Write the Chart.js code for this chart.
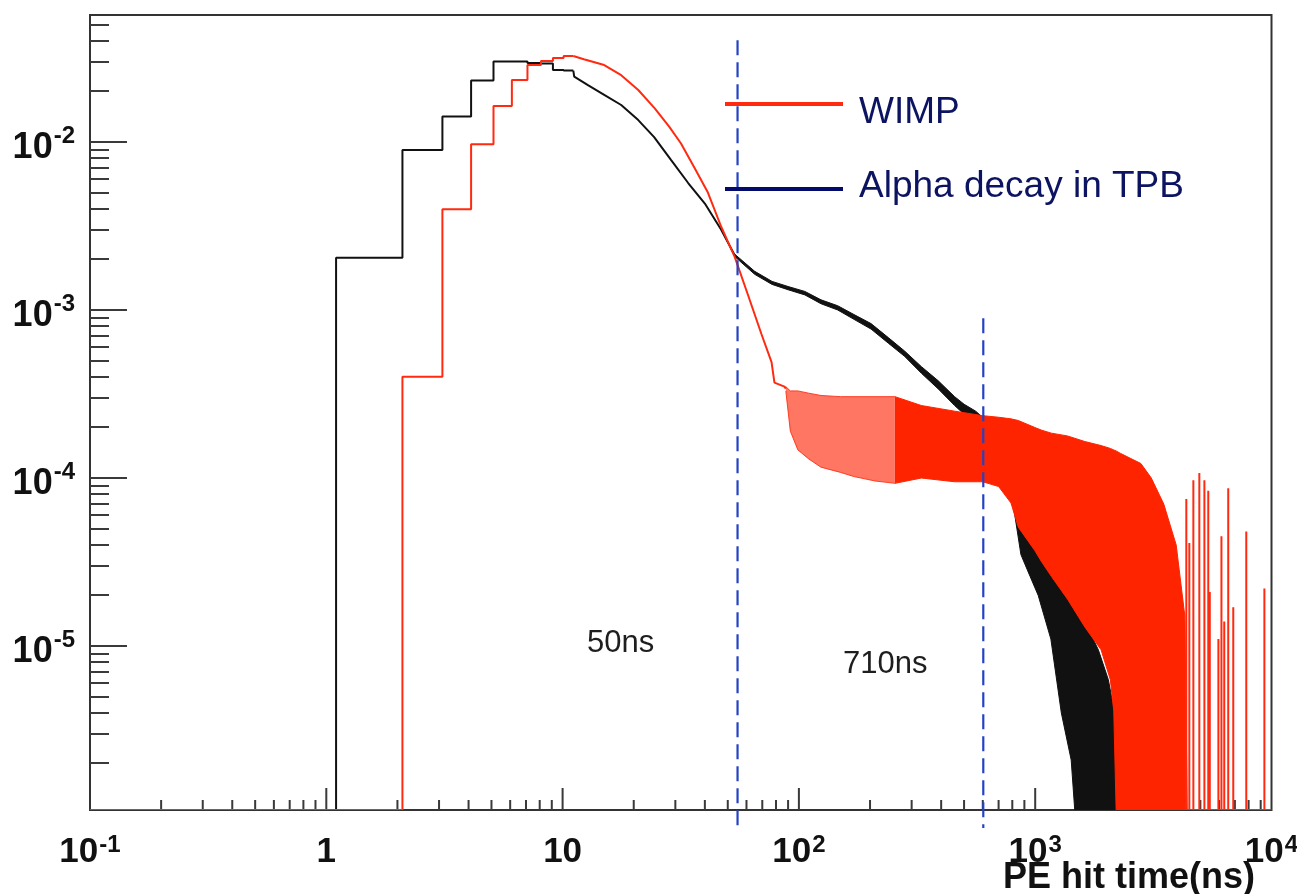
<!DOCTYPE html>
<html><head><meta charset="utf-8">
<script src="https://cdn.jsdelivr.net/npm/chart.js@4.4.1/dist/chart.umd.min.js"></script>
<style>html,body{margin:0;padding:0;background:#fff;}canvas{display:block;}</style>
</head><body>
<canvas id="c" width="1297" height="894"></canvas>
<script>
// ---------- axis ranges ----------
const X_MIN = 0.1, X_MAX = 1e4;
const Y_MIN = 1.057e-6, Y_MAX = 0.057;

// ---------- tick labels ----------
const xTickValues = [0.1, 1, 10, 100, 1000, 10000];
const xTickBase   = ['10', '1', '10', '10', '10', '10'];
const xTickExp    = ['-1', '', '', '2', '3', '4'];
const yTickValues = [1e-2, 1e-3, 1e-4, 1e-5];
const yTickBase   = ['10', '10', '10', '10'];
const yTickExp    = ['-2', '-3', '-4', '-5'];
const xTitle = 'PE hit time(ns)';

// ---------- legend / annotations ----------
const seriesNames = ['WIMP', 'Alpha decay in TPB'];
const annotTexts = ['50ns', '710ns'];
const cutTimes = [55, 603];          // ns, dashed cut lines
const cutTops  = [0.0403, 8.93e-4];  // upper end of each dashed line

// ---------- WIMP (red) ----------
const redStepT = [0.1, 2.1, 3.1, 4.1, 5.1, 6.1, 7.1, 8.1, 9.1, 10.1, 11.1];
const redStepV = [0, 4.0e-4, 3.98e-3, 9.7e-3, 0.0164, 0.0234, 0.0287, 0.0303, 0.0316, 0.0325, 0.0325];
const redCurveT = [11.1, 12.3, 15, 17.7, 20.9, 24.5, 28.3, 31.7, 36, 41.2, 46.9, 53.5, 61, 69.4, 76.6, 78.8, 86.9, 88];
const redCurveV = [0.0325, 0.0311, 0.0287, 0.0250, 0.0204, 0.0159, 0.0123, 0.0098, 0.0071, 0.0050, 0.00313, 0.00207, 0.00122, 0.00072, 0.00049, 0.00037, 0.00035, 0.00034];
const redBandAT  = [88, 92, 99, 110, 124, 150, 171, 210, 255];
const redBandAHi = [3.5e-4, 3.3e-4, 3.3e-4, 3.2e-4, 3.1e-4, 3.05e-4, 3.05e-4, 3.05e-4, 3.05e-4];
const redBandALo = [3.3e-4, 1.9e-4, 1.47e-4, 1.3e-4, 1.16e-4, 1.08e-4, 1.02e-4, 9.6e-5, 9.3e-5];
const redBandBT  = [255, 330, 456, 600, 700, 790, 848, 996, 1060, 1170, 1370, 1620, 1900, 2080, 2150, 2200, 2300, 2800, 3100, 3500, 3950, 4300, 4400];
const redBandBHi = [3.05e-4, 2.7e-4, 2.5e-4, 2.35e-4, 2.3e-4, 2.25e-4, 2.2e-4, 2.0e-4, 1.93e-4, 1.85e-4, 1.78e-4, 1.65e-4, 1.56e-4, 1.5e-4, 1.47e-4, 1.45e-4, 1.40e-4, 1.22e-4, 1.0e-4, 7e-5, 4e-5, 1.5e-5, 0];
const redBandBLo = [9.3e-5, 1.0e-4, 9.5e-5, 9.5e-5, 8.9e-5, 7.1e-5, 5.1e-5, 3.7e-5, 3.2e-5, 2.6e-5, 1.9e-5, 1.3e-5, 9.5e-6, 6.3e-6, 4.1e-6, 0, 0, 0, 0, 0, 0, 0, 0];
const redSpikeT = [4360, 4490, 4670, 4950, 5200, 5400, 5480, 5960, 6140, 6310, 6560, 6890, 7820, 9330];
const redSpikeV = [7.5e-5, 4.1e-5, 9.7e-5, 1.07e-4, 9.7e-5, 8.4e-5, 2.1e-5, 1.1e-5, 4.5e-5, 1.4e-5, 8.7e-5, 1.7e-5, 4.8e-5, 2.2e-5];

// ---------- Alpha decay in TPB (black) ----------
const blackStepT = [1.1, 1.1, 2.1, 3.1, 4.1, 5.1, 6.1, 7.1, 8.1, 9.1, 10.1, 11.1];
const blackStepV = [0, 2.05e-3, 8.96e-3, 0.01416, 0.0232, 0.0301, 0.0301, 0.0295, 0.0293, 0.0268, 0.0266, 0.0266];
const blackCurveT = [11.1, 11.2, 12.8, 15, 17.7, 20.9, 24.4, 28.8, 34, 40, 46.9, 53.5];
const blackCurveV = [0.0266, 0.0245, 0.0218, 0.0191, 0.0166, 0.0135, 0.0107, 0.0078, 0.0057, 0.0043, 0.0030, 0.00212];
const blackBandT  = [53.5, 65, 77, 90, 106, 124, 146, 171, 202, 239, 280, 330, 388, 456, 500, 560, 620, 700, 800, 870, 930, 1030, 1165, 1290, 1420, 1470, 1620, 1850, 2040, 2160, 2240];
const blackBandHi = [2.15e-3, 1.70e-3, 1.48e-3, 1.38e-3, 1.29e-3, 1.15e-3, 1.06e-3, 0.94e-3, 0.83e-3, 0.685e-3, 0.57e-3, 0.46e-3, 0.38e-3, 0.305e-3, 0.275e-3, 0.25e-3, 0.22e-3, 1.7e-4, 1.1e-4, 6.5e-5, 6.0e-5, 4.5e-5, 3.3e-5, 2.3e-5, 1.9e-5, 1.8e-5, 1.4e-5, 9.5e-6, 6.3e-6, 4.1e-6, 2.0e-6];
const blackBandLo = [2.08e-3, 1.63e-3, 1.42e-3, 1.32e-3, 1.23e-3, 1.09e-3, 1.00e-3, 0.88e-3, 0.77e-3, 0.635e-3, 0.53e-3, 0.42e-3, 0.34e-3, 0.27e-3, 0.24e-3, 0.215e-3, 0.185e-3, 1.3e-4, 7.5e-5, 3.5e-5, 2.8e-5, 2.0e-5, 1.1e-5, 4e-6, 2.1e-6, 0, 0, 0, 0, 0, 0];
const blackSpikeT = [2600, 2880];
const blackSpikeV = [2.0e-6, 2.0e-6];

// ---------- helpers ----------
const RED = '#ff2a10', RED_FILL = '#ff2400', BLACK = '#111111';
const FONT = '"Liberation Sans", Arial, Helvetica, sans-serif';
const fl = v => (v > 0 ? v : Y_MIN);
const pts = (T, V) => T.map((t, i) => ({x: t, y: fl(V[i])}));
function spikePts(T, V, startX, endX) {
  const out = [{x: startX, y: Y_MIN}];
  T.forEach((t, i) => { out.push({x: t, y: Y_MIN}, {x: t, y: V[i]}, {x: t, y: Y_MIN}); });
  out.push({x: endX, y: Y_MIN});
  return out;
}
const base = {pointRadius: 0, tension: 0, borderJoinStyle: 'bevel', fill: false};

const datasets = [
  Object.assign({}, base, {data: spikePts(redSpikeT, redSpikeV, 4400, X_MAX), borderColor: RED, borderWidth: 2, order: 1}),
  Object.assign({}, base, {data: pts(redStepT, redStepV), stepped: 'before', borderColor: RED, borderWidth: 2, order: 1}),
  Object.assign({}, base, {data: pts(redCurveT, redCurveV), borderColor: RED, borderWidth: 2, order: 1}),
  Object.assign({}, base, {data: pts(redBandAT, redBandAHi), borderColor: 'rgba(255,40,10,0.85)', borderWidth: 1, fill: 4, backgroundColor: 'rgba(255,45,15,0.65)', order: 1}),
  Object.assign({}, base, {data: pts(redBandAT, redBandALo), borderColor: 'rgba(255,40,10,0.85)', borderWidth: 1, order: 1}),
  Object.assign({}, base, {data: pts(redBandBT, redBandBHi), borderColor: RED_FILL, borderWidth: 1, fill: 6, backgroundColor: RED_FILL, order: 1}),
  Object.assign({}, base, {data: pts(redBandBT, redBandBLo), borderColor: RED_FILL, borderWidth: 1, order: 1}),
  Object.assign({}, base, {data: pts(blackStepT, blackStepV), stepped: 'before', borderColor: BLACK, borderWidth: 2, order: 2}),
  Object.assign({}, base, {data: pts(blackCurveT, blackCurveV), borderColor: BLACK, borderWidth: 2, order: 2}),
  Object.assign({}, base, {data: pts(blackBandT, blackBandHi), borderColor: BLACK, borderWidth: 1, fill: 10, backgroundColor: BLACK, order: 2}),
  Object.assign({}, base, {data: pts(blackBandT, blackBandLo), borderColor: BLACK, borderWidth: 1, order: 2}),
  Object.assign({}, base, {data: spikePts(blackSpikeT, blackSpikeV, 2500, 3000), borderColor: BLACK, borderWidth: 2, order: 2})
];

function powLabel(ctx, b, e, x, baseY, align, bigPx, supPx, raise) {
  ctx.font = `bold ${bigPx}px ${FONT}`;
  const w1 = ctx.measureText(b).width;
  ctx.font = `bold ${supPx}px ${FONT}`;
  const w2 = e ? ctx.measureText(e).width + 1 : 0;
  const total = w1 + w2;
  const x0 = align === 'center' ? x - total / 2 : x - total;
  ctx.textAlign = 'left';
  ctx.textBaseline = 'alphabetic';
  ctx.font = `bold ${bigPx}px ${FONT}`;
  ctx.fillText(b, x0, baseY);
  if (e) { ctx.font = `bold ${supPx}px ${FONT}`; ctx.fillText(e, x0 + w1 + 1, baseY - raise); }
}

const rootAxes = {
  id: 'rootAxes',
  beforeDatasetsDraw(chart) {
    const {ctx, chartArea: a, scales: {x, y}} = chart;
    ctx.save();
    ctx.strokeStyle = '#333'; ctx.lineWidth = 2;
    ctx.strokeRect(a.left, a.top, a.right - a.left, a.bottom - a.top);
    ctx.strokeStyle = '#3a3a3a'; ctx.lineWidth = 2;
    ctx.beginPath();
    for (let e = -6; e <= -1; e++) for (let m = 1; m <= 9; m++) {
      const v = m * Math.pow(10, e);
      if (v < Y_MIN || v > Y_MAX) continue;
      const py = Math.round(y.getPixelForValue(v));
      ctx.moveTo(a.left, py); ctx.lineTo(a.left + (m === 1 ? 37 : 19), py);
    }
    for (let e = -1; e <= 3; e++) for (let m = 1; m <= 9; m++) {
      const v = m * Math.pow(10, e);
      if (v <= X_MIN || v > X_MAX) continue;
      const px = x.getPixelForValue(v);
      ctx.moveTo(px, a.bottom); ctx.lineTo(px, a.bottom - (m === 1 ? 22 : 10));
    }
    ctx.stroke();
    ctx.restore();
  },
  afterDatasetsDraw(chart) {
    const {ctx, chartArea: a, scales: {x, y}} = chart;
    ctx.save();
    // dashed cut lines
    ctx.strokeStyle = '#2443c4'; ctx.lineWidth = 2.2; ctx.setLineDash([15, 7]);
    cutTimes.forEach((t, i) => {
      const px = x.getPixelForValue(t);
      ctx.beginPath();
      ctx.moveTo(px, y.getPixelForValue(cutTops[i]));
      ctx.lineTo(px, a.bottom + 18);
      ctx.stroke();
    });
    ctx.setLineDash([]);
    // legend
    const legColors = [RED, '#020a6c'];
    const legY = [104, 189];
    const legBase = [123, 197];
    legColors.forEach((c, i) => {
      ctx.strokeStyle = c; ctx.lineWidth = 4;
      ctx.beginPath(); ctx.moveTo(725, legY[i]); ctx.lineTo(843, legY[i]); ctx.stroke();
      ctx.fillStyle = '#0c1462'; ctx.font = `37px ${FONT}`; ctx.textAlign = 'left'; ctx.textBaseline = 'alphabetic';
      ctx.fillText(seriesNames[i], 859, legBase[i]);
    });
    // annotations
    ctx.fillStyle = '#1e1e1e'; ctx.font = `31px ${FONT}`;
    ctx.fillText(annotTexts[0], 587, 652);
    ctx.fillText(annotTexts[1], 843, 673);
    // tick labels
    ctx.fillStyle = '#111';
    xTickValues.forEach((v, i) => powLabel(ctx, xTickBase[i], xTickExp[i], x.getPixelForValue(v), 862, 'center', 35, 24, 10));
    yTickValues.forEach((v, i) => powLabel(ctx, yTickBase[i], yTickExp[i], 75, y.getPixelForValue(v) + 16, 'right', 36, 24, 15));
    // axis title
    ctx.font = `bold 36px ${FONT}`; ctx.textAlign = 'right';
    ctx.fillText(xTitle, 1255, 888);
    ctx.restore();
  }
};

new Chart(document.getElementById('c'), {
  type: 'line',
  data: {datasets},
  options: {
    responsive: false,
    devicePixelRatio: 1,
    animation: false,
    layout: {padding: {left: 90, top: 15, right: 25.5, bottom: 84}},
    scales: {
      x: {type: 'logarithmic', min: X_MIN, max: X_MAX, display: false},
      y: {type: 'logarithmic', min: Y_MIN, max: Y_MAX, display: false}
    },
    plugins: {legend: {display: false}, tooltip: {enabled: false}}
  },
  plugins: [rootAxes]
});
</script>
</body></html>
